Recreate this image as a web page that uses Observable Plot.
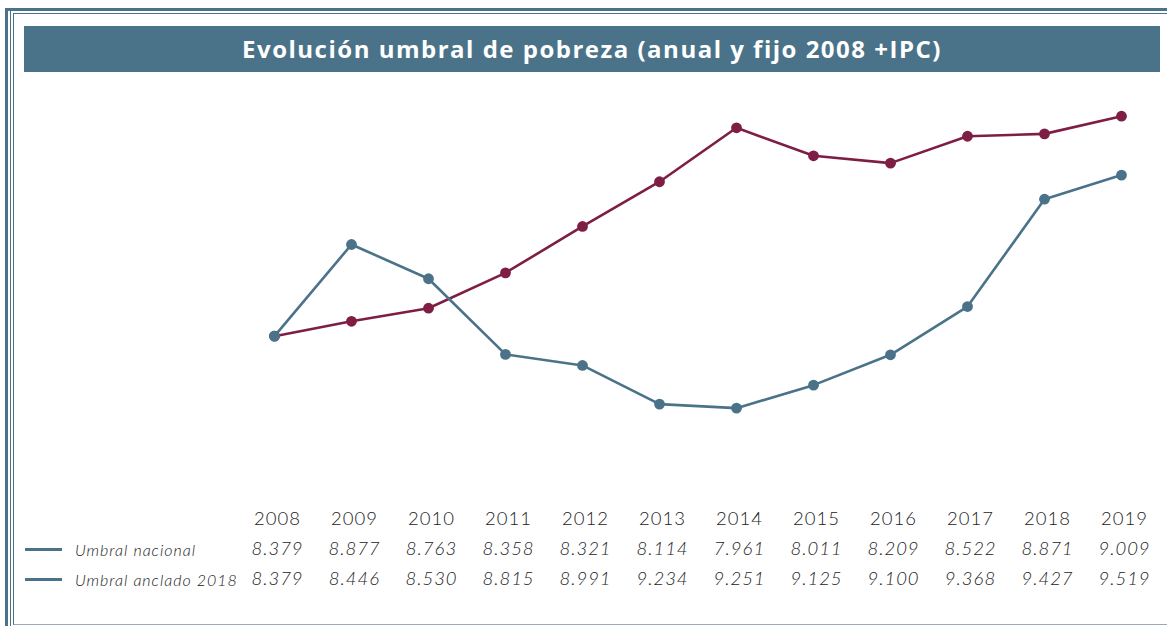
<!DOCTYPE html>
<html><head><meta charset="utf-8">
<script src="https://cdn.jsdelivr.net/npm/d3@7"></script>
<script src="https://cdn.jsdelivr.net/npm/@observablehq/plot@0.6"></script>
<style>
html,body{margin:0;padding:0;background:#fff;}
body{width:1167px;height:626px;overflow:hidden;position:relative;font-family:Lato,sans-serif;}
.fr{position:absolute;box-sizing:border-box;}
#f1{left:5px;top:8px;width:1170px;height:630px;border-left:3px solid #4a7389;border-top:3px solid #4a7389;}
#f2{left:10px;top:11px;width:1170px;height:630px;border-left:1px solid #4a7389;}
#f3{left:13px;top:13px;width:1170px;height:612px;border-left:1px solid #4a7389;border-top:1.5px solid #4a7389;border-bottom:1px solid #9aa9b5;}
#title{position:absolute;left:24px;top:26px;width:1136px;height:46px;background:#4a7389;color:#fff;
  font-family:"Open Sans",sans-serif;font-weight:700;font-size:24px;letter-spacing:1.5px;line-height:46px;text-align:center;}
#chart{position:absolute;left:0;top:72px;}
#table{position:absolute;left:0;top:500px;}
#table svg text{letter-spacing:1px;font-family:Lato,sans-serif;}
.leg{position:absolute;left:25px;height:20px;display:flex;align-items:center;font-style:italic;font-weight:300;font-size:16px;letter-spacing:1px;color:#222;white-space:nowrap;}
.leg span.sw{display:inline-block;width:37px;height:2.5px;background:#4a7389;margin-right:13px;}
</style></head><body>
<div class="fr" id="f1"></div><div class="fr" id="f2"></div><div class="fr" id="f3"></div>
<div id="title"></div>
<div id="chart"></div>
<div id="table"></div>
<div id="legend"></div>
<script>
const titleText = "Evolución umbral de pobreza (anual y fijo 2008 +IPC)";
const years = [2008, 2009, 2010, 2011, 2012, 2013, 2014, 2015, 2016, 2017, 2018, 2019];
const seriesNames = ["Umbral nacional", "Umbral anclado 2018"];
const seriesColors = ["#4a7389", "#7e1e45"];
const nacionalLine = [8379, 8877, 8691, 8280, 8220, 8010, 7988, 8113, 8278, 8540, 9123, 9254];
const ancladoLine  = [8379, 8460, 8531, 8723, 8975, 9218, 9511, 9359, 9319, 9465, 9478, 9574];
// values printed in the table
const nacionalTabla = [8379, 8877, 8763, 8358, 8321, 8114, 7961, 8011, 8209, 8522, 8871, 9009];
const ancladoTabla  = [8379, 8446, 8530, 8815, 8991, 9234, 9251, 9125, 9100, 9368, 9427, 9519];

document.getElementById("title").textContent = titleText;

const fmt = d3.formatLocale({decimal: ",", thousands: ".", grouping: [3], currency: ["", "€"]}).format(",d");

const lineData = [];
years.forEach((y, i) => {
  lineData.push({year: y, value: ancladoLine[i], serie: seriesNames[1]});
});
years.forEach((y, i) => {
  lineData.push({year: y, value: nacionalLine[i], serie: seriesNames[0]});
});

const chart = Plot.plot({
  width: 1167,
  height: 428,
  marginLeft: 270,
  marginRight: 42,
  x: {type: "point", domain: years, padding: 0, axis: null},
  y: {domain: [7600, 9700], range: [407.1, 20.5], axis: null},
  color: {domain: seriesNames, range: seriesColors},
  style: {background: "transparent"},
  marks: [
    Plot.line(lineData, {x: "year", y: "value", z: "serie", stroke: "serie", strokeWidth: 2.6}),
    Plot.dot(lineData, {x: "year", y: "value", fill: "serie", r: 5.4})
  ]
});
document.getElementById("chart").appendChild(chart);

const rows = ["year", "nac", "anc"];
const tableData = [];
years.forEach((y, i) => {
  tableData.push({year: y, row: "year", label: String(y), italic: false});
  tableData.push({year: y, row: "nac", label: fmt(nacionalTabla[i]), italic: true});
  tableData.push({year: y, row: "anc", label: fmt(ancladoTabla[i]), italic: true});
});

const table = Plot.plot({
  width: 1167,
  height: 100,
  marginLeft: 275,
  marginRight: 42,
  x: {type: "point", domain: years, padding: 0, axis: null},
  y: {type: "point", domain: rows, range: [19, 79], padding: 0, axis: null},
  style: {background: "transparent", fontFamily: "Lato"},
  marks: [
    Plot.text(tableData.filter(d => !d.italic), {x: "year", y: "row", text: "label", fontSize: 18.5, fill: "#222", fontWeight: 300, fontFamily: "Lato"}),
    Plot.text(tableData.filter(d => d.italic), {x: "year", y: "row", text: "label", fontSize: 18.5, fill: "#222", fontStyle: "italic", fontWeight: 300, fontFamily: "Lato"})
  ]
});
document.getElementById("table").appendChild(table);

const legendTops = [539.5, 569.5];
const leg = document.getElementById("legend");
seriesNames.forEach((name, i) => {
  const d = document.createElement("div");
  d.className = "leg";
  d.style.top = legendTops[i] + "px";
  const sw = document.createElement("span");
  sw.className = "sw";
  sw.style.background = seriesColors[0];
  d.appendChild(sw);
  d.appendChild(document.createTextNode(name));
  leg.appendChild(d);
});
</script>
</body></html>
